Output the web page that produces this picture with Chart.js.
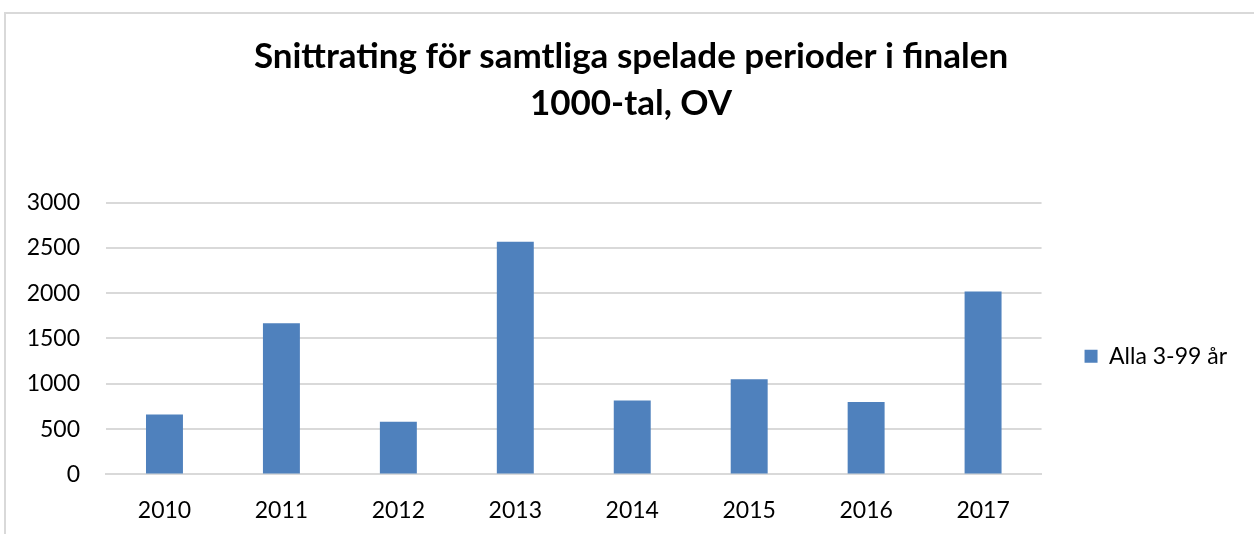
<!DOCTYPE html>
<html><head><meta charset="utf-8">
<script src="https://cdn.jsdelivr.net/npm/chart.js@4/dist/chart.umd.min.js"></script>
<style>
html,body{margin:0;padding:0;background:#fff;overflow:hidden}
#wrap{position:absolute;left:0;top:0;width:1254px;height:534px}
#frame{position:absolute;left:4px;top:12px;width:1260px;height:540px;border-left:2px solid #d9d9d9;border-top:2px solid #d9d9d9;box-sizing:border-box}
canvas{position:absolute;left:0;top:0}
</style></head>
<body>
<div id="wrap"><div id="frame"></div><canvas id="c" width="1254" height="534"></canvas></div>
<script>
const categories = ["2010","2011","2012","2013","2014","2015","2016","2017"];
const seriesName = "Alla 3-99 år";
const values = [662, 1669, 581, 2566, 816, 1051, 798, 2018];
const yTicks = [0, 500, 1000, 1500, 2000, 2500, 3000];
const titleLines = ["Snittrating för samtliga spelade perioder i finalen", "1000-tal, OV"];

const FONT = "Lato, 'Open Sans', sans-serif";
new Chart(document.getElementById('c'), {
  type: 'bar',
  data: {
    labels: categories,
    datasets: [{
      label: seriesName,
      data: values,
      backgroundColor: '#4f81bd',
      borderWidth: 0,
      barPercentage: 0.316,
      categoryPercentage: 1.0
    }]
  },
  options: {
    responsive: false,
    animation: false,
    devicePixelRatio: 1,
    layout: { padding: { left: 25, right: 17, top: 0, bottom: -4 } },
    plugins: {
      title: {
        display: true,
        text: titleLines,
        color: '#000',
        font: { family: FONT, size: 35, weight: 'bold', lineHeight: 1.35 },
        padding: { top: 33, bottom: 75 }
      },
      legend: {
        position: 'right',
        title: { display: true, text: ' ', font: { size: 12, lineHeight: 1.2 }, padding: { top: 80, bottom: 80 } },
        labels: {
          color: '#000',
          font: { family: FONT, size: 23 },
          boxWidth: 13, boxHeight: 13,
          padding: 43
        }
      },
      tooltip: { enabled: false }
    },
    scales: {
      x: {
        grid: { display: false },
        border: { display: true, color: '#d9d9d9', width: 2 },
        ticks: { color: '#000', font: { family: FONT, size: 23 }, padding: 14 }
      },
      y: {
        min: 0, max: 3000,
        afterBuildTicks: (axis) => { axis.ticks = yTicks.map(v => ({ value: v })); },
        afterFit: (axis) => { axis.width = 81; },
        grid: { color: '#d9d9d9', lineWidth: 2, drawTicks: false },
        border: { display: false },
        ticks: { color: '#000', font: { family: FONT, size: 23 }, padding: 26, callback: (v) => String(v) }
      }
    }
  }
});
</script>
</body></html>
